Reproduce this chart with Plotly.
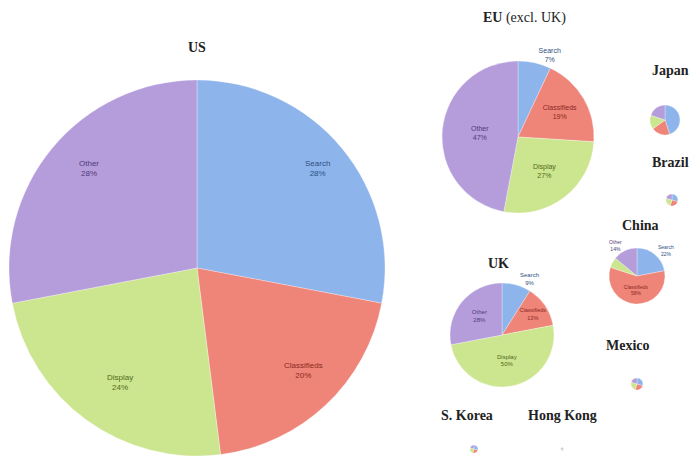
import math
import plotly.graph_objects as go

categories = ["Search", "Classifieds", "Display", "Other"]
colors = ["#8DB5EC", "#EF8479", "#CCE58F", "#B59DDB"]
text_colors = ["#2F4F80", "#8A2A22", "#4F6A1A", "#4F3A7A"]

us_vals = [28, 20, 24, 28]
eu_vals = [7, 19, 27, 47]
uk_vals = [9, 13, 50, 28]
china_vals = [22, 58, 6, 14]
japan_vals = [45, 20, 15, 20]
brazil_vals = [30, 25, 25, 20]
mexico_vals = [30, 25, 25, 20]
korea_vals = [30, 25, 25, 20]
hk_vals = [30, 25, 25, 20]

W, H = 700, 456

def dom(cx, cy, r):
    return dict(x=[(cx - r) / W, (cx + r) / W], y=[1 - (cy + r) / H, 1 - (cy - r) / H])

fig = go.Figure()

def add_pie(vals, cx, cy, r, showtext=True, positions="inside", fsize=8):
    fig.add_trace(go.Pie(
        labels=categories, values=vals, sort=False, direction="clockwise", rotation=0,
        marker=dict(colors=colors, line=dict(color="rgba(255,255,255,0.6)", width=0.5)),
        domain=dom(cx, cy, r),
        textinfo="text" if showtext else "none",
        text=[f"{c}<br>{v}%" for c, v in zip(categories, vals)] if showtext else None,
        textposition=positions,
        textfont=dict(size=fsize, color=text_colors, family="Liberation Sans"),
        insidetextorientation="horizontal",
        showlegend=False, hoverinfo="label+percent",
    ))

# US pie: labels placed near the rim (as in the original) from the slice mid-angles
us_cx, us_cy, us_r = 197, 268, 188
add_pie(us_vals, us_cx, us_cy, us_r, showtext=False)
total = sum(us_vals)
cum = 0
for c, v, tc in zip(categories, us_vals, text_colors):
    mid = (cum + v / 2) / total * 2 * math.pi
    cum += v
    px = us_cx + 0.83 * us_r * math.sin(mid)
    py = us_cy - 0.83 * us_r * math.cos(mid)
    fig.add_annotation(text=f"{c}<br>{v}%", x=px / W, y=1 - py / H, xref="paper", yref="paper",
                       showarrow=False, font=dict(size=8, color=tc, family="Liberation Sans"))

add_pie(eu_vals, 518, 137, 76, positions=["outside", "inside", "inside", "inside"], fsize=7)
add_pie(uk_vals, 502, 335, 52, positions=["outside", "inside", "inside", "inside"], fsize=6)
add_pie(china_vals, 637, 276, 28, positions=["outside", "inside", "none", "outside"], fsize=5)
add_pie(japan_vals, 665, 120, 15, showtext=False)
add_pie(brazil_vals, 672, 200, 6, showtext=False)
add_pie(mexico_vals, 637, 384, 6, showtext=False)
add_pie(korea_vals, 474, 449, 4, showtext=False)
add_pie(hk_vals, 562, 449, 1.5, showtext=False)

titles = [
    ("<b>US</b>", 197, 47),
    ("<b>EU</b> (excl. UK)", 524, 18),
    ("<b>UK</b>", 498, 263),
    ("<b>Japan</b>", 670, 70),
    ("<b>Brazil</b>", 670, 162),
    ("<b>China</b>", 640, 225),
    ("<b>Mexico</b>", 628, 345),
    ("<b>S. Korea</b>", 467, 415),
    ("<b>Hong Kong</b>", 562, 415),
]
for t, x, y in titles:
    fig.add_annotation(text=t, x=x / W, y=1 - y / H, xref="paper", yref="paper",
                       showarrow=False, xanchor="center", yanchor="middle",
                       font=dict(size=14, color="#222222", family="Liberation Serif"))

fig.update_layout(width=W, height=H, margin=dict(l=0, r=0, t=0, b=0),
                  paper_bgcolor="white", plot_bgcolor="white")
fig.write_html("out.html")
